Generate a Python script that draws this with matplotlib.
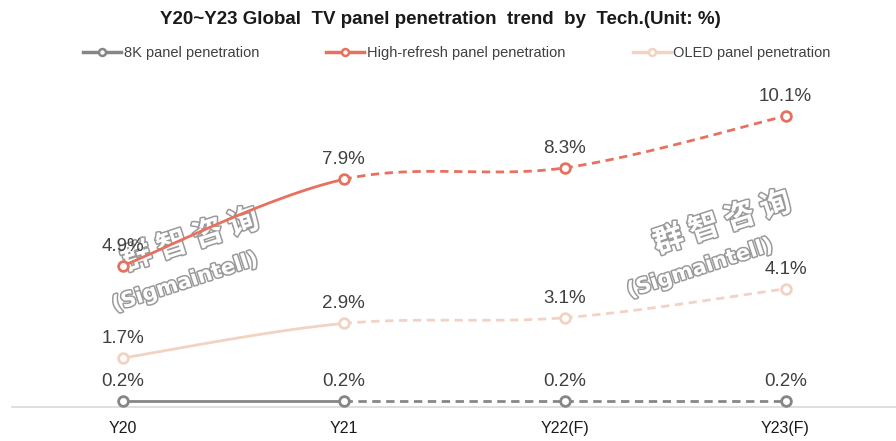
import numpy as np
import matplotlib
matplotlib.use("Agg")
import matplotlib.pyplot as plt
import matplotlib.patheffects as pe

categories = ["Y20", "Y21", "Y22(F)", "Y23(F)"]
series_names = ["8K panel penetration", "High-refresh panel penetration", "OLED panel penetration"]
k8 = [0.2, 0.2, 0.2, 0.2]
high_refresh = [4.9, 7.9, 8.3, 10.1]
oled = [1.7, 2.9, 3.1, 4.1]
colors = ["#868686", "#e8705f", "#f2d3c3"]

plt.rcParams['font.family'] = ['Liberation Sans', 'DejaVu Sans']

fig = plt.figure(figsize=(8.96, 4.41), dpi=100)
W, H = 896, 441
ax = fig.add_axes([12 / W, 1 - 407 / H, (896 - 12) / W, (407 - 61.3) / H])
ax.set_xlim(-0.5, 3.5)
ax.set_ylim(0, 12)
for s in ["top", "right", "left"]:
    ax.spines[s].set_visible(False)
ax.spines["bottom"].set_color("#d9d9d9")
ax.spines["bottom"].set_linewidth(1.2)
ax.set_yticks([])
ax.set_xticks(range(len(categories)))
ax.set_xticklabels(categories, fontsize=11.5, color="#1a1a1a")
ax.tick_params(axis="x", length=0, pad=10)


def smooth(xs, ys, n=60):
    xs = np.asarray(xs, float); ys = np.asarray(ys, float)
    P = np.column_stack([xs, ys])
    segs = []
    for i in range(len(P) - 1):
        p0 = P[i - 1] if i > 0 else P[i]
        p1 = P[i]; p2 = P[i + 1]
        p3 = P[i + 2] if i + 2 < len(P) else P[i + 1]
        c1 = p1 + (p2 - p0) / 6.0
        c2 = p2 - (p3 - p1) / 6.0
        t = np.linspace(0, 1, n)[:, None]
        B = (1 - t) ** 3 * p1 + 3 * (1 - t) ** 2 * t * c1 + 3 * (1 - t) * t ** 2 * c2 + t ** 3 * p2
        segs.append(B)
    return segs


x = np.arange(len(categories))
for vals, col, name in zip([k8, high_refresh, oled], colors, series_names):
    segs = smooth(x, vals)
    ax.plot(segs[0][:, 0], segs[0][:, 1], color=col, lw=2, zorder=3, solid_capstyle="round")
    for sg in segs[1:]:
        ax.plot(sg[:, 0], sg[:, 1], color=col, lw=2, ls=(0, (3, 2)), zorder=3)
    ax.plot(x, vals, ls="none", marker="o", ms=7, mfc="white", mec=col, mew=2, zorder=4)
    for xi, v in zip(x, vals):
        ax.annotate(f"{v:.1f}%", (xi, v), xytext=(0, 8), textcoords="offset points",
                    ha="center", va="bottom", fontsize=13.5, color="#404040", zorder=5)

# legend
handles = [plt.Line2D([], [], color=c, lw=2.5, marker="o", ms=5, mfc="white", mec=c, mew=1.8)
           for c in colors]
fig.legend(handles, series_names, loc="center", bbox_to_anchor=(0.51, 1 - 53 / H), ncol=3,
           frameon=False, fontsize=10.5, handlelength=2.6, columnspacing=4.6, handletextpad=0.2,
           labelcolor="#404040")

fig.text(0.492, 1 - 19 / H, "Y20~Y23 Global  TV panel penetration  trend  by  Tech.(Unit: %)",
         ha="center", va="center", fontsize=13.5, fontweight="bold", color="#1a1a1a")

# watermarks
effects = [pe.Stroke(linewidth=2.2, foreground="#9a9a9a"), pe.Normal()]
for (cx, cy), (sx, sy) in [((190, 240), (185, 282)), ((722, 223), (700, 268))]:
    fig.text(cx / W, 1 - cy / H, "群 智 咨 询", ha="center", va="center", rotation=18,
             fontsize=22, fontweight="bold", color="white",
             family=["Noto Sans CJK SC", "DejaVu Sans"], path_effects=effects, zorder=1)
    fig.text(sx / W, 1 - sy / H, "(Sigmaintell)", ha="center", va="center", rotation=18,
             fontsize=15, fontweight="bold", color="white", family=["DejaVu Sans"],
             path_effects=effects, zorder=1)
ax.set_zorder(2)
ax.patch.set_alpha(0)

fig.savefig("out.png", dpi=100)
